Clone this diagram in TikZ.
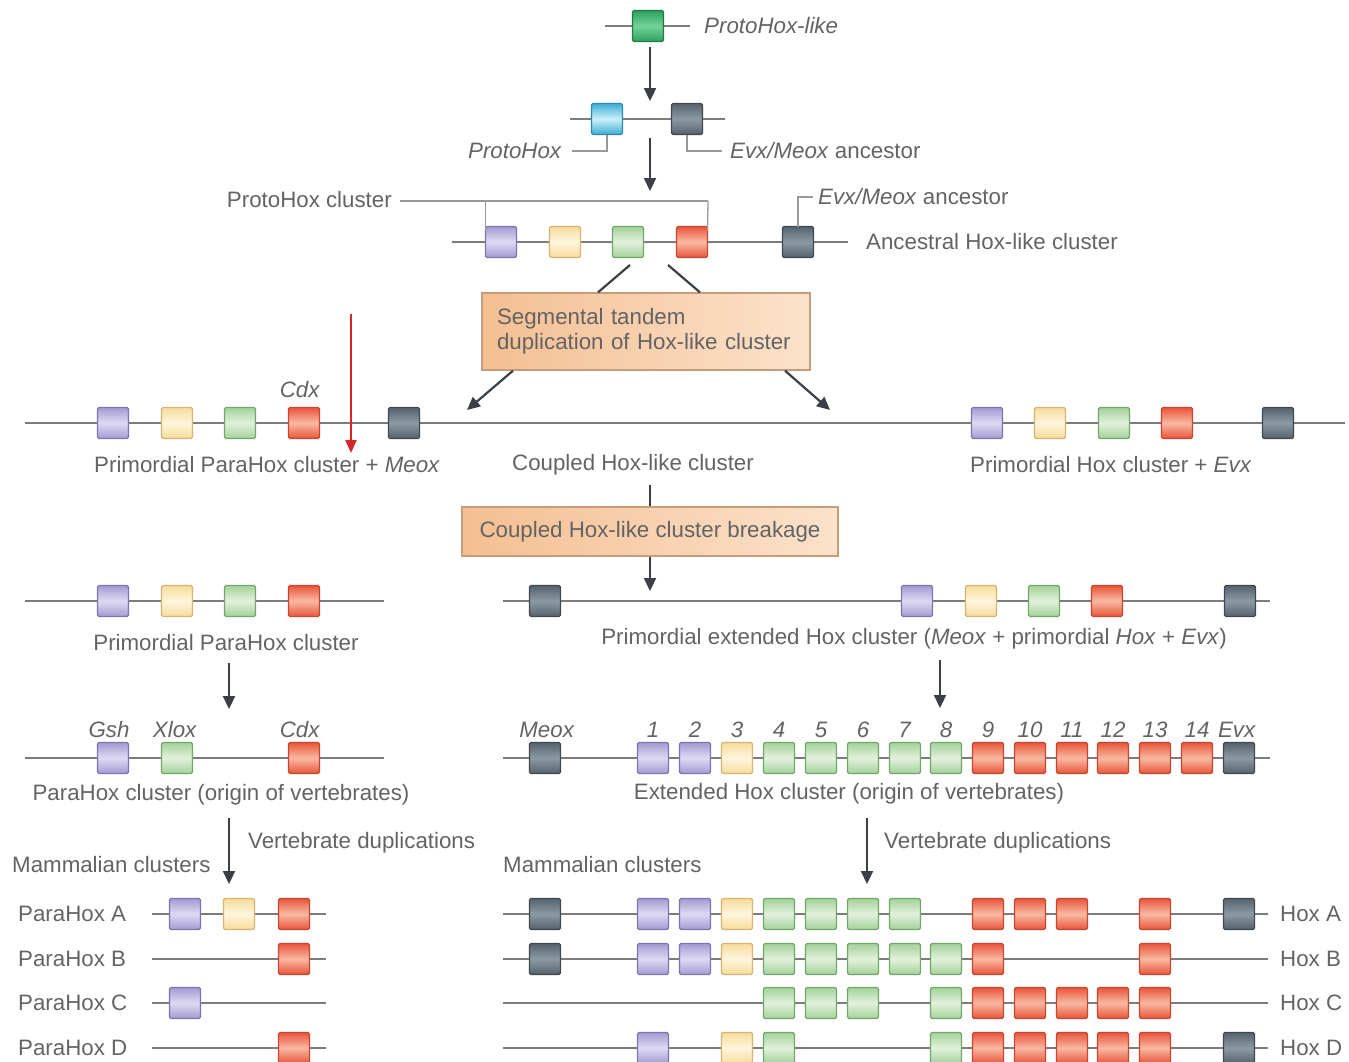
\documentclass[tikz,border=0pt]{standalone}
\usepackage{fontspec}
\setmainfont{Liberation Sans}
\usetikzlibrary{arrows.meta}
\definecolor{txt}{HTML}{636363}
\definecolor{lineC}{HTML}{7C7C7C}
\definecolor{arrC}{HTML}{3A4046}
\definecolor{leadC}{HTML}{9A9A9A}
\definecolor{purB}{HTML}{7D74B3}\definecolor{purF}{HTML}{A29BD2}\definecolor{purM}{HTML}{DEDAF2}
\definecolor{yelB}{HTML}{D6B46C}\definecolor{yelF}{HTML}{F7DB9C}\definecolor{yelM}{HTML}{FFF6DE}
\definecolor{grnB}{HTML}{72A76A}\definecolor{grnF}{HTML}{A3D29A}\definecolor{grnM}{HTML}{E2F1DC}
\definecolor{redB}{HTML}{C8462E}\definecolor{redF}{HTML}{E8553A}\definecolor{redM}{HTML}{F9B9A2}
\definecolor{drkB}{HTML}{3E4850}\definecolor{drkF}{HTML}{56636C}\definecolor{drkM}{HTML}{8C9AA3}
\definecolor{cyaB}{HTML}{2F89AE}\definecolor{cyaF}{HTML}{3CAED6}\definecolor{cyaM}{HTML}{CDEEF8}
\definecolor{pgB}{HTML}{1E7A45}\definecolor{pgF}{HTML}{2BA25E}\definecolor{pgM}{HTML}{74D29A}
\definecolor{oraB}{HTML}{C79C7A}\definecolor{oraL}{HTML}{F4BF92}\definecolor{oraR}{HTML}{FBE2CB}
\definecolor{redA}{HTML}{D7252B}
\tikzset{
  gene/.style={draw, line width=1.3pt, rounded corners=1.5pt, minimum width=31pt, minimum height=31pt, inner sep=0pt, outer sep=0pt},
  gP/.style={gene, draw=purB, top color=purF, bottom color=purF, middle color=purM},
  gY/.style={gene, draw=yelB, top color=yelF, bottom color=yelF, middle color=yelM},
  gG/.style={gene, draw=grnB, top color=grnF, bottom color=grnF, middle color=grnM},
  gR/.style={gene, draw=redB, top color=redF, bottom color=redF, middle color=redM},
  gD/.style={gene, draw=drkB, top color=drkF, bottom color=drkF, middle color=drkM},
  gC/.style={gene, draw=cyaB, top color=cyaF, bottom color=cyaF, middle color=cyaM},
  gV/.style={gene, draw=pgB, top color=pgF, bottom color=pgF, middle color=pgM},
  chrom/.style={draw=lineC, line width=2.2pt},
  lead/.style={draw=leadC, line width=1.3pt},
  arr/.style={draw=arrC, line width=2.2pt, -{Triangle[length=13pt,width=12pt]}},
  plainln/.style={draw=arrC, line width=2.2pt},
  redarr/.style={draw=redA, line width=2.2pt, -{Triangle[length=13pt,width=11pt]}},
  lab/.style={text=txt, inner sep=0pt},
  obox/.style={draw=oraB, line width=1.3pt, left color=oraL, right color=oraR, text=txt, inner sep=0pt}
}
\begin{document}
\begin{tikzpicture}[x=1pt,y=-1pt,font=\fontsize{22.3}{25}\selectfont]
\useasboundingbox (0,0) rectangle (1349,1061);

% ---------- Row 1: ProtoHox-like
\coordinate (r1a) at (605,26); \coordinate (r1b) at (690,26);
\draw[chrom] (r1a) -- (r1b);
\node[gV] (pl) at (648,26) {};
\node[lab,anchor=west] (plL) at (704,26) {\textit{ProtoHox-like}};
\coordinate (a1s) at (650,47); \coordinate (a1e) at (650,101);
\draw[arr] (a1s) -- (a1e);

% ---------- Row 2
\coordinate (r2a) at (570,119); \coordinate (r2b) at (725,119);
\draw[chrom] (r2a) -- (r2b);
\node[gC] (ph) at (607,119) {};
\node[gD] (em) at (687,119) {};
\node[lab,anchor=east] (phL) at (562,151) {\textit{ProtoHox}};
\node[lab,anchor=west] (emL) at (730,151) {\textit{Evx/Meox} ancestor};
\draw[lead] (ph.south) |- ([xshift=10pt]phL.east);
\draw[lead] (em.south) |- ([xshift=-8pt]emL.west);
\coordinate (a2s) at (650,138); \coordinate (a2e) at (650,191);
\draw[arr] (a2s) -- (a2e);

% ---------- Row 3: ancestral Hox-like cluster
\coordinate (r3a) at (452,242); \coordinate (r3b) at (848,242);
\draw[chrom] (r3a) -- (r3b);
\node[gP] (c3p) at (501,242) {};
\node[gY] (c3y) at (565,242) {};
\node[gG] (c3g) at (628,242) {};
\node[gR] (c3r) at (692,242) {};
\node[gD] (c3d) at (798,242) {};
\node[lab,anchor=west] (c3L) at (866,242) {Ancestral Hox-like cluster};
\node[lab,anchor=east] (phc) at (392,200) {ProtoHox cluster};
\coordinate (bk1) at (400,201); \coordinate (bk2) at (708,201);
\draw[lead] (bk1) -- (bk2);
\draw[lead] (c3p.north west |- bk1) -- ([yshift=-4pt]c3p.north west);
\draw[lead] (bk2) -- ([yshift=-4pt]c3r.north east);
\node[lab,anchor=west] (emL2) at (818,197) {\textit{Evx/Meox} ancestor};
\draw[lead] (c3d.north) |- ([xshift=-5pt]emL2.west);

% ---------- Orange box 1
\node[obox, minimum width=328pt, minimum height=77pt, text width=298pt, align=left] (seg) at (646,331.5)
  {Segmental tandem\\duplication of Hox-like cluster};
\coordinate (s1) at (630,265); \coordinate (s2) at (668,265);
\draw[plainln] (s1) -- (seg.north -| 598,0);
\draw[plainln] (s2) -- (seg.north -| 700,0);
\coordinate (d1) at (467,410); \coordinate (d2) at (830,410);
\draw[arr] (seg.south -| 513,0) -- (d1);
\draw[arr] (seg.south -| 785,0) -- (d2);

% ---------- Row 4: coupled cluster
\coordinate (r4a) at (25,423); \coordinate (r4b) at (1345,423);
\draw[chrom] (r4a) -- (r4b);
\foreach \s/\x in {gP/113,gY/177,gG/240,gR/304,gD/404,gP/987,gY/1050,gG/1114,gR/1177,gD/1278}
  \node[\s] (r4-\x) at (\x,423) {};
\node[lab] (cdx1) at (300,390) {\textit{Cdx}};
\coordinate (ra1) at (351,314); \coordinate (ra2) at (351,453);
\draw[redarr] (ra1) -- (ra2);
\node[lab,anchor=west] (pphm) at (94,465) {Primordial ParaHox cluster + \textit{Meox}};
\node[lab] (chl) at (633,465) {Coupled Hox-like cluster};
\node[lab,anchor=west] (phe) at (970,465) {Primordial Hox cluster + \textit{Evx}};

% ---------- Orange box 2
\node[obox, minimum width=376pt, minimum height=49pt] (brk) at (650,531.5) {Coupled Hox-like cluster breakage};
\coordinate (cl1) at (650,485);
\draw[plainln] (cl1) -- (brk.north);
\coordinate (b2e) at (650,591);
\draw[arr] (brk.south) -- (b2e);

% ---------- Row 5
\coordinate (r5a) at (25,601); \coordinate (r5b) at (384,601);
\draw[chrom] (r5a) -- (r5b);
\foreach \s/\x in {gP/113,gY/177,gG/240,gR/304}
  \node[\s] (r5l-\x) at (\x,601) {};
\node[lab] (ppc) at (226,643) {Primordial ParaHox cluster};
\coordinate (r5c) at (503,601); \coordinate (r5d) at (1270,601);
\draw[chrom] (r5c) -- (r5d);
\foreach \s/\x in {gD/545,gP/917,gY/981,gG/1044,gR/1107,gD/1240}
  \node[\s] (r5r-\x) at (\x,601) {};
\node[lab] (pehc) at (914,639) {Primordial extended Hox cluster (\textit{Meox} + primordial \textit{Hox} + \textit{Evx})};
\coordinate (a5ls) at (229,663); \coordinate (a5l) at (229,709);
\coordinate (a5rs) at (940,660); \coordinate (a5r) at (940,708);
\draw[arr] (a5ls) -- (a5l);
\draw[arr] (a5rs) -- (a5r);

% ---------- Row 6
\coordinate (r6a) at (25,758); \coordinate (r6b) at (384,758);
\draw[chrom] (r6a) -- (r6b);
\node[gP] (gsh) at (113,758) {};
\node[gG] (xlox) at (177,758) {};
\node[gR] (cdx) at (304,758) {};
\node[lab] at (109,730) {\textit{Gsh}};
\node[lab] at (175,730) {\textit{Xlox}};
\node[lab] at (300,730) {\textit{Cdx}};
\node[lab] (pvc) at (221,795) {ParaHox cluster (origin of vertebrates)};
\coordinate (r6c) at (503,758); \coordinate (r6d) at (1270,758);
\draw[chrom] (r6c) -- (r6d);
\node[gD] (meox) at (545,758) {};
\node[lab] at (547,730) {\textit{Meox}};
\foreach \s/\n/\x in {gP/1/653,gP/2/695,gY/3/737,gG/4/779,gG/5/821,gG/6/863,gG/7/905,gG/8/946,gR/9/988,gR/10/1030,gR/11/1072,gR/12/1113,gR/13/1155,gR/14/1197}{
  \node[\s] (h\n) at (\x,758) {};
  \node[lab] at (\x,730) {\textit{\n}};
}
\node[gD] (evx) at (1239,758) {};
\node[lab] at (1237,730) {\textit{Evx}};
\node[lab] (ehc) at (849,794) {Extended Hox cluster (origin of vertebrates)};

\coordinate (a6ls) at (229,818); \coordinate (a6l) at (229,884);
\coordinate (a6rs) at (867,818); \coordinate (a6r) at (867,884);
\draw[arr] (a6ls) -- (a6l);
\draw[arr] (a6rs) -- (a6r);
\node[lab,anchor=west] at (248,843) {Vertebrate duplications};
\node[lab,anchor=west] at (12,865) {Mammalian clusters};
\node[lab,anchor=west] at (884,843) {Vertebrate duplications};
\node[lab,anchor=west] at (503,865) {Mammalian clusters};

% ---------- Mammalian ParaHox clusters
\foreach \nm/\y in {A/914,B/959,C/1003,D/1048}{
  \coordinate (pl\nm) at (152,\y); \coordinate (pr\nm) at (326,\y);
  \draw[chrom] (pl\nm) -- (pr\nm);
  \node[lab,anchor=west] at (18,\y) {ParaHox \nm};
  \coordinate (hl\nm) at (503,\y); \coordinate (hr\nm) at (1268,\y);
  \draw[chrom] (hl\nm) -- (hr\nm);
  \node[lab,anchor=west] at (1280,\y) {Hox \nm};
}
\node[gP] (pA1) at (185,914) {};
\node[gY] (pA2) at (239,914) {};
\node[gR] (pA3) at (294,914) {};
\node[gR] (pB3) at (294,959) {};
\node[gP] (pC1) at (185,1003) {};
\node[gR] (pD3) at (294,1048) {};

% ---------- Mammalian Hox clusters
\foreach \s/\x in {gD/545,gP/653,gP/695,gY/737,gG/779,gG/821,gG/863,gG/905,gR/988,gR/1030,gR/1072,gR/1155,gD/1239}
  \node[\s] (hA-\x) at (\x,914) {};
\foreach \s/\x in {gD/545,gP/653,gP/695,gY/737,gG/779,gG/821,gG/863,gG/905,gG/946,gR/988,gR/1155}
  \node[\s] (hB-\x) at (\x,959) {};
\foreach \s/\x in {gG/779,gG/821,gG/863,gG/946,gR/988,gR/1030,gR/1072,gR/1113,gR/1155}
  \node[\s] (hC-\x) at (\x,1003) {};
\foreach \s/\x in {gP/653,gY/737,gG/779,gG/946,gR/988,gR/1030,gR/1072,gR/1113,gR/1155,gD/1239}
  \node[\s] (hD-\x) at (\x,1048) {};
\end{tikzpicture}
\end{document}
